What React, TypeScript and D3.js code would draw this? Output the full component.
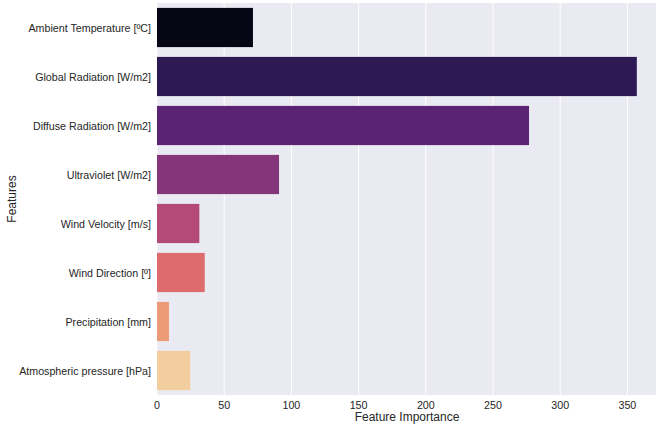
import React from "react";
import * as d3 from "d3";

const features = [
  "Ambient Temperature [ºC]",
  "Global Radiation [W/m2]",
  "Diffuse Radiation [W/m2]",
  "Ultraviolet [W/m2]",
  "Wind Velocity [m/s]",
  "Wind Direction [º]",
  "Precipitation [mm]",
  "Atmospheric pressure [hPa]",
];
const importance = [71.4, 357, 276.8, 90.8, 31.5, 35.5, 8.9, 24.8];
const xTicks = [0, 50, 100, 150, 200, 250, 300, 350];
const palettePositions = [0.04, 0.163, 0.286, 0.409, 0.531, 0.654, 0.777, 0.9];

const W = 656;
const H = 427;
const left = 157;
const top = 3;
const bottom = 395;
const font = "'Liberation Sans', Arial, sans-serif";

function desat(c: string, p: number) {
  const h = d3.hsl(c);
  h.s = h.s * p;
  return h.formatHex();
}

export default function App() {
  const x = d3.scaleLinear().domain([0, 375]).range([left, left + 375 * 1.344]);
  const y = d3.scaleBand().domain(features).range([top, bottom]).paddingInner(0.2).paddingOuter(0.1);
  const colors = palettePositions.map((p) => desat(d3.interpolateMagma(p), 0.78));
  return (
    <svg width={W} height={H} style={{ position: "absolute", left: 0, top: 0 }} fontFamily={font}>
      <rect x={left} y={top} width={W - left} height={bottom - top} fill="#eaeaf2" />
      {xTicks.map((t) => (
        <line key={t} x1={x(t)} x2={x(t)} y1={top} y2={bottom} stroke="#fff" strokeWidth={1} />
      ))}
      {features.map((f, i) => (
        <rect
          key={f}
          x={x(0)}
          y={y(f)!}
          width={x(importance[i]) - x(0)}
          height={y.bandwidth()}
          fill={colors[i]}
        />
      ))}
      {features.map((f) => (
        <text
          key={f}
          x={151}
          y={y(f)! + y.bandwidth() / 2}
          textAnchor="end"
          dominantBaseline="central"
          fontSize={10.7}
          fill="#262626"
        >
          {f}
        </text>
      ))}
      {xTicks.map((t) => (
        <text key={t} x={x(t)} y={405} textAnchor="middle" dominantBaseline="central" fontSize={10.7} fill="#262626">
          {t}
        </text>
      ))}
      <text x={407} y={417} textAnchor="middle" dominantBaseline="central" fontSize={12} fill="#262626">
        Feature Importance
      </text>
      <text
        transform={`translate(12,${(top + bottom) / 2}) rotate(-90)`}
        textAnchor="middle"
        dominantBaseline="central"
        fontSize={12}
        fill="#262626"
      >
        Features
      </text>
    </svg>
  );
}
